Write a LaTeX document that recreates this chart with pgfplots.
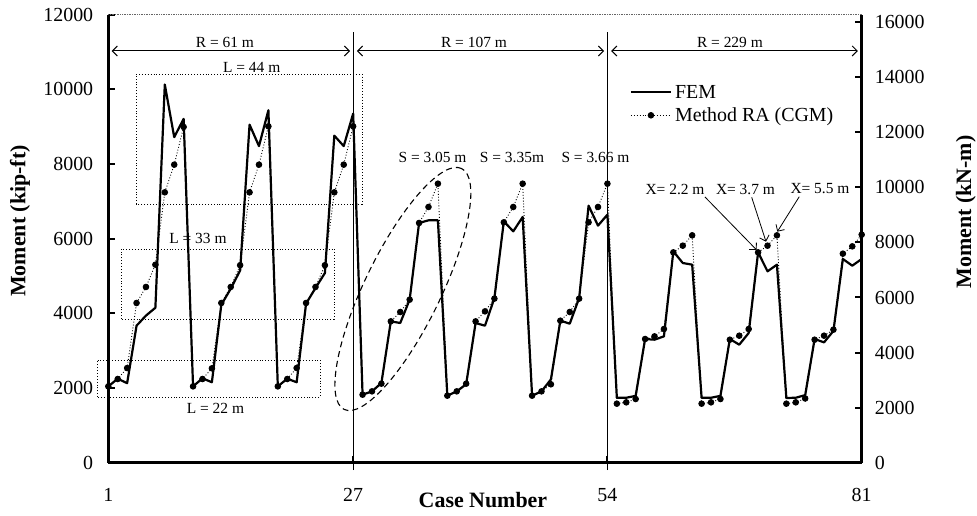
\documentclass[border=0pt]{standalone}
\usepackage{fontspec}
\setmainfont{Liberation Serif}
\usepackage{pgfplots}
\pgfplotsset{compat=1.18}
\usepackage{pgfplotstable}
\usetikzlibrary{shapes.geometric,arrows.meta}

\pgfplotstableread{
case fem cgm
1 2044 2044
2 2250 2242
3 2130 2536
4 3670 4278
5 3940 4707
6 4150 5304
7 10130 7242
8 8720 7983
9 9210 8993
10 2044 2044
11 2260 2242
12 2155 2528
13 4230 4278
14 4660 4707
15 5150 5290
16 9055 7242
17 8480 7983
18 9440 9010
19 2044 2044
20 2250 2242
21 2155 2536
22 4260 4278
23 4680 4707
24 5080 5290
25 8760 7242
26 8480 7983
27 9350 9010
28 1822 1822
29 1911 1911
30 2135 2117
31 3786 3786
32 3742 4037
33 4367 4367
34 6421 6421
35 6492 6850
36 6492 7474
37 1795 1795
38 1911 1911
39 2100 2117
40 3742 3786
41 3670 4054
42 4412 4395
43 6465 6439
44 6197 6850
45 6582 7474
46 1795 1795
47 1911 1911
48 2230 2100
49 3804 3804
50 3724 4037
51 4412 4395
52 6885 6439
53 6350 6850
54 6644 7474
55 1740 1581
56 1740 1617
57 1790 1706
58 3313 3313
59 3295 3384
60 3384 3581
61 5661 5634
62 5349 5813
63 5304 6090
64 1740 1581
65 1740 1617
66 1790 1706
67 3313 3295
68 3161 3402
69 3474 3581
70 5634 5634
71 5126 5813
72 5304 6090
73 1733 1581
74 1740 1617
75 1810 1720
76 3313 3295
77 3223 3402
78 3530 3563
79 5457 5599
80 5277 5795
81 5457 6108
}\datatable

\pgfplotsset{
  common/.style={
    scale only axis, width=753.4bp, height=448bp,
    xmin=1, xmax=81,
    axis line style={line width=2.8bp, black},
    tick align=inside,
    major tick length=7bp,
    tick style={line width=2bp, black},
    /pgf/number format/assume math mode=true,
    /pgf/number format/1000 sep={},
    scaled ticks=false,
    ticklabel style={font=\fontsize{20}{24}\selectfont},
  }
}

\begin{document}
\begin{tikzpicture}
\begin{axis}[
  common,
  ymin=0, ymax=12000,
  axis x line*=bottom, axis y line*=left,
  clip=false,
  xtick={1,27,54,81},
  ytick={0,2000,...,12000},
  xticklabel style={anchor=center, yshift=-32bp},
  yticklabel style={anchor=east, xshift=-11.6bp},
  xlabel={Case Number},
  xlabel style={at={(rel axis cs:0.4973,-0.0833)}, anchor=center, font=\bfseries\fontsize{22}{26}\selectfont},
  ylabel={Moment (kip-ft)},
  ylabel style={at={(rel axis cs:-0.1172,0.5395)}, anchor=center, font=\bfseries\fontsize{22}{26}\selectfont},
  legend style={at={(rel axis cs:0.692,0.85)}, anchor=north west, draw=none, fill=none,
    font=\fontsize{20}{24}\selectfont, inner sep=0pt, row sep=2bp, nodes={inner sep=3bp}},
  legend cell align=left,
  legend image code/.code={\draw[mark repeat=2,mark phase=2,#1] plot coordinates {(0bp,0bp) (20bp,0bp) (40bp,0bp)};},
]
\addplot[black, line width=2.2bp, line join=round, no markers] table[x=case, y=fem] {\datatable};
\addlegendentry{FEM}
\addplot[black, line width=0.9bp, dotted, mark=*, mark size=2.8bp, mark options={solid}] table[x=case, y=cgm] {\datatable};
\addlegendentry{Method RA (CGM)}

% top border
\draw[densely dotted, black!60, line width=0.7bp] (rel axis cs:0,1) -- (rel axis cs:1,1);
% separators
\draw[line width=0.8bp] (axis cs:27,-196) -- (axis cs:27,11532);
\draw[line width=0.8bp] (axis cs:54,-196) -- (axis cs:54,11532);
% R arrows
\draw[{Straight Barb[length=5bp]}-{Straight Barb[length=5bp]}, line width=1bp] (axis cs:1.36,11028) -- (axis cs:26.67,11028);
\draw[{Straight Barb[length=5bp]}-{Straight Barb[length=5bp]}, line width=1bp] (axis cs:27.4,11028) -- (axis cs:53.65,11028);
\draw[{Straight Barb[length=5bp]}-{Straight Barb[length=5bp]}, line width=1bp] (axis cs:54.4,11028) -- (axis cs:80.6,11028);
\begin{scope}[every node/.style={font=\fontsize{15.5}{18}\selectfont, inner sep=1bp}]
\node at (axis cs:13.39,11269) {R = 61 m};
\node at (axis cs:39.83,11269) {R = 107 m};
\node at (axis cs:67.01,11269) {R = 229 m};
% L boxes
\draw[dotted, line width=0.9bp] (axis cs:3.94,6930) rectangle (axis cs:27.94,10412);
\draw[dotted, line width=0.9bp] (axis cs:2.35,3849) rectangle (axis cs:24.97,5724);
\draw[dotted, line width=0.9bp] (axis cs:-0.2,1760) rectangle (axis cs:23.48,2751);
\node at (axis cs:16.23,10599) {L = 44 m};
\node at (axis cs:10.52,6019) {L = 33 m};
\node at (axis cs:12.38,1465) {L = 22 m};
% S labels
\node at (axis cs:35.43,8188) {S = 3.05 m};
\node at (axis cs:43.87,8188) {S = 3.35m};
\node at (axis cs:52.73,8188) {S = 3.66 m};
% X labels
\node at (axis cs:61.18,7331) {X= 2.2 m};
\node at (axis cs:68.66,7331) {X= 3.7 m};
\node at (axis cs:76.57,7331) {X= 5.5 m};
\end{scope}
\draw[-{Straight Barb[length=5bp]}, line width=0.8bp] (axis cs:64.36,7117) -- (axis cs:69.85,5697);
\draw[-{Straight Barb[length=5bp]}, line width=0.8bp] (axis cs:69.32,7109) -- (axis cs:70.84,5920);
\draw[-{Straight Barb[length=5bp]}, line width=0.8bp] (axis cs:74.37,7125) -- (axis cs:72.04,6188);
% ellipse
\node[draw, ellipse, dash pattern=on 6bp off 4bp, line width=1.1bp, minimum width=268bp, minimum height=76bp, inner sep=0pt, rotate=64] at (axis cs:32.28,4653) {};
\end{axis}

\begin{axis}[
  common,
  ymin=0, ymax=16269.8,
  axis x line=none, axis y line*=right,
  ytick={0,2000,...,16000},
  yticklabel style={anchor=west, xshift=9.6bp},
  ylabel={Moment (kN-m)},
  ylabel style={at={(rel axis cs:1.1384,0.5596)}, anchor=center, font=\bfseries\fontsize{22}{26}\selectfont},
]
\addplot[draw=none] coordinates {(1,0) (81,0)};
\end{axis}
\pgfresetboundingbox
\path (-108.3bp,-53.3bp) rectangle (868.7bp,462.7bp);
\end{tikzpicture}
\end{document}
